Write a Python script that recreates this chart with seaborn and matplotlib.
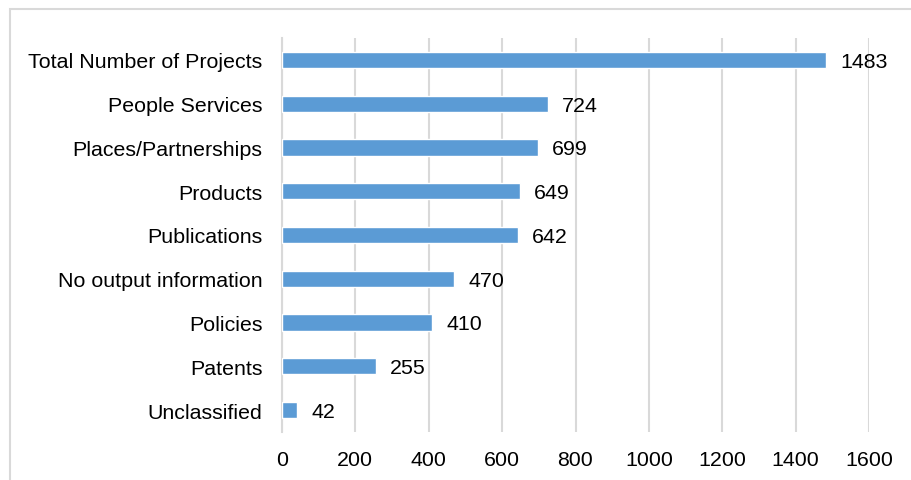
import matplotlib
matplotlib.use("Agg")
import matplotlib.pyplot as plt
import matplotlib.patches as mpatches
import seaborn as sns
import pandas as pd

categories = ["Total Number of Projects", "People Services", "Places/Partnerships",
              "Products", "Publications", "No output information", "Policies",
              "Patents", "Unclassified"]
values = [1483, 724, 699, 649, 642, 470, 410, 255, 42]
xticks = [0, 200, 400, 600, 800, 1000, 1200, 1400, 1600]

sns.set_theme(style="white")
plt.rcParams['font.family'] = ['Liberation Sans', 'DejaVu Sans']

df = pd.DataFrame({"cat": categories, "val": values})

FS = 15.4
W, H = 911, 481
fig = plt.figure(figsize=(W / 100, H / 100), dpi=100)
ax = fig.add_axes([282 / W, 1 - 433 / H, (869 - 282) / W, (433 - 39) / H])

sns.barplot(data=df, y="cat", x="val", order=categories, color="#5B9BD5",
            width=0.37, saturation=1, ax=ax, zorder=3)

ax.set_xlim(0, 1600)
ax.set_ylim(len(categories) - 0.5, -0.5)
ax.set_xticks(xticks)
ax.set_xticklabels([str(t) for t in xticks], fontsize=FS, color="#000000")
ax.tick_params(axis="y", labelsize=FS, colors="#000000", length=0, pad=14)
ax.tick_params(axis="x", length=0, pad=13)
ax.set_xlabel("")
ax.set_ylabel("")
ax.grid(axis="x", color="#D9D9D9", linewidth=1.5, zorder=0)
ax.grid(axis="y", visible=False)
for s in ["top", "right", "bottom"]:
    ax.spines[s].set_visible(False)
ax.spines["left"].set_color("#D9D9D9")
ax.spines["left"].set_linewidth(1.5)

for i, v in enumerate(values):
    ax.annotate(str(v), xy=(v, i), xytext=(10, -1), textcoords="offset points",
                va="center", ha="left", fontsize=FS, color="#000000")

rect = mpatches.Rectangle((10 / W, -0.05), 1.0, 1 - 10 / H + 0.05,
                          transform=fig.transFigure, fill=False,
                          edgecolor="#D9D9D9", linewidth=1.5, clip_on=False)
fig.patches.append(rect)

fig.savefig("out.png", dpi=100)
